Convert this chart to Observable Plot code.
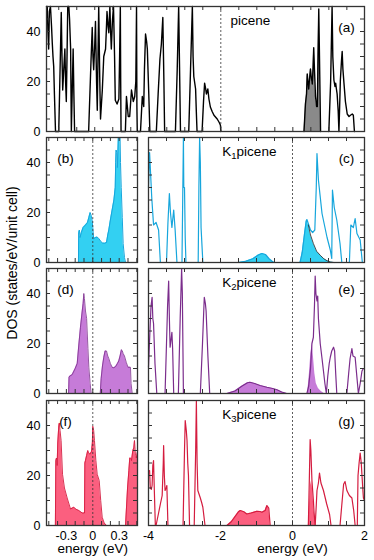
<!DOCTYPE html>
<html><head><meta charset="utf-8">
<script src="https://cdn.jsdelivr.net/npm/d3@7"></script>
<script src="https://cdn.jsdelivr.net/npm/@observablehq/plot@0.6"></script>
<style>
body{margin:0;background:#fff;}
#chart{position:relative;width:374px;height:560px;font-family:"Liberation Sans",Arial,sans-serif;}
#chart svg{position:absolute;}
</style></head><body><div id="chart"></div>
<script>
// ---------- tick labels ----------
const yLabelTicks = [0, 20, 40];
const yMinorTicks = [0, 5, 10, 15, 20, 25, 30, 35, 40, 45, 50];
const zoomLabelTicks = [-0.3, 0, 0.3];
const zoomMinorTicks = [-0.5, -0.4, -0.3, -0.2, -0.1, 0, 0.1, 0.2, 0.3, 0.4, 0.5];
const wideLabelTicks = [-4, -2, 0, 2];
const wideMinorTicks = [-4, -3.5, -3, -2.5, -2, -1.5, -1, -0.5, 0, 0.5, 1, 1.5, 2];
const picMinorTicks = [-4.5, -4, -3.5, -3, -2.5, -2, -1.5, -1, -0.5, 0, 0.5, 1, 1.5, 2, 2.5, 3, 3.5];

// ---------- (a) picene ----------
const picValence = [[-4.84,50],[-4.82,60],[-4.8,40],[-4.78,33],[-4.76,48],[-4.73,60],[-4.7,42],[-4.68,35.5],[-4.66,30],[-4.64,26],[-4.62,15],[-4.59,0],
[-4.5,0],[-4.47,20],[-4.43,47.6],[-4.41,30],[-4.39,16.6],[-4.36,25],[-4.33,33],[-4.31,20],[-4.29,12],[-4.27,30],[-4.25,55],[-4.22,60],[-4.2,45],[-4.17,33],[-4.15,0],[-4.12,20],[-4.1,33],[-4.08,15],[-4.06,0],
[-3.67,0],[-3.6,30],[-3.57,41.6],[-3.55,30],[-3.53,24.7],[-3.5,35],[-3.48,44],[-3.45,20],[-3.43,8.5],[-3.41,30],[-3.39,60],[-3.36,20],[-3.34,5],[-3.29,16.6],[-3.25,30],[-3.2,33],[-3.18,40],[-3.16,48],[-3.13,42],[-3.11,39.5],[-3.08,60],[-3.06,40],[-3.04,33],[-3.01,44],[-2.98,60],[-2.95,30],[-2.93,12.5],[-2.88,11],[-2.83,13],[-2.81,30],[-2.79,60],[-2.78,20],[-2.77,0],
[-2.65,0],[-2.62,14],[-2.57,6],[-2.53,6],[-2.48,16.6],[-2.43,12],[-2.39,14],[-2.36,20],[-2.34,60],[-2.33,10],[-2.32,0],
[-2.23,0],[-2.18,14],[-2.14,10],[-2.12,25],[-2.09,39],[-2.06,36],[-2.04,33],[-2.0,15],[-1.97,0],
[-1.79,0],[-1.74,15],[-1.69,29],[-1.65,35],[-1.61,45.6],[-1.58,20],[-1.56,0],
[-1.26,0],[-1.21,25],[-1.17,60],[-1.14,20],[-1.12,0],
[-0.89,0],[-0.84,25],[-0.79,60],[-0.77,30],[-0.75,22],[-0.7,17],[-0.68,8],[-0.66,0],
[-0.52,0],[-0.48,12],[-0.45,19.3],[-0.42,17],[-0.4,15],[-0.36,17],[-0.33,13],[-0.29,9.8],[-0.24,8],[-0.19,6.5],[-0.1,5],[-0.04,3.5],[-0.01,2.5],[0,0]];
const picLumo = [[2.31,0],[2.35,11],[2.38,15],[2.4,23],[2.42,20],[2.44,17],[2.47,22],[2.49,25],[2.51,22],[2.54,19],[2.56,25],[2.58,33.5],[2.6,25],[2.63,14],[2.66,10],[2.68,10],[2.7,30],[2.72,49],[2.74,30],[2.77,0]];
const picCond = [[3.0,0],[3.05,20],[3.09,60],[3.11,30],[3.14,20.6],[3.17,18],[3.19,19.3],[3.21,17],[3.23,15],[3.26,8],[3.28,0],[3.3,10],[3.32,20.6],[3.35,28],[3.37,32],[3.39,25],[3.42,19.3],[3.46,12],[3.51,7],[3.56,6],[3.6,6.5],[3.65,7],[3.68,6.5],[3.71,0]];

// ---------- (b),(c) K1picene ----------
const k1Zoom = [[-0.163,0],[-0.16,12],[-0.152,13],[-0.145,10],[-0.13,12],[-0.11,14],[-0.083,15],[-0.06,16],[-0.045,18],[-0.03,20],[-0.02,19],[-0.008,17],[0.0,14],[0.01,9.5],[0.03,10],[0.05,10.2],[0.07,9.5],[0.09,8.5],[0.11,7.8],[0.135,7.7],[0.156,8],[0.17,11],[0.182,13],[0.2,17],[0.22,21],[0.24,25],[0.255,30],[0.26,40],[0.265,45],[0.272,44],[0.28,38],[0.29,52],[0.31,52],[0.315,40],[0.323,30],[0.335,18],[0.345,7.6],[0.36,2],[0.372,0]];
const k1Line = [[-4.0,30],[-3.97,44],[-3.94,35],[-3.91,26],[-3.86,15],[-3.79,16],[-3.72,13],[-3.67,0],
[-3.5,0],[-3.46,16],[-3.42,27.6],[-3.39,20],[-3.35,14],[-3.3,21],[-3.26,13],[-3.21,0],
[-3.07,0],[-3.05,25],[-3.03,60],[-3.02,30],[-3.0,30],[-2.98,10],[-2.96,0],
[-2.62,0],[-2.6,30],[-2.58,60],[-2.56,40],[-2.54,14],[-2.49,0],
[-1.5,0],[-1.3,0.5],[-1.1,1.5],[-0.95,3],[-0.85,3.6],[-0.75,3.2],[-0.65,1.5],[-0.55,0.3],[-0.5,0],
[0.21,0],[0.27,4],[0.33,11],[0.38,16.5],[0.4,17.2],[0.44,15.5],[0.5,13],[0.56,12],[0.62,13],[0.66,30],[0.68,43.6],[0.72,33],[0.82,19.6],[0.96,10],[1.05,5],[1.09,1.6],[1.11,29],[1.16,22],[1.23,17],[1.32,7.6],[1.37,0],
[1.58,0],[1.62,15],[1.69,14],[1.74,17.6],[1.79,11.6],[1.88,9],[1.94,0],[2.0,0]];
const k1Bump = [[-1.5,0],[-1.3,0.5],[-1.1,1.5],[-0.95,3],[-0.85,3.6],[-0.75,3.2],[-0.65,1.5],[-0.55,0.3],[-0.5,0]];
const k1Lumo = [[0.21,0],[0.27,4],[0.33,11],[0.38,16.5],[0.4,17.2],[0.44,15],[0.5,11],[0.58,7.6],[0.67,4.5],[0.77,2.9],[0.87,1.5],[0.96,0.7],[1.05,0.2],[1.15,0]];
const k1Tail = [[0.44,15],[0.5,11],[0.58,7.6],[0.67,4.5],[0.77,2.9],[0.87,1.5],[0.96,0.7],[1.05,0.2],[1.15,0]];

// ---------- (d),(e) K2picene ----------
const k2ZoomA = [[-0.275,0],[-0.27,6.5],[-0.26,7],[-0.235,7.5],[-0.2,10],[-0.177,12],[-0.16,19],[-0.14,26.5],[-0.12,33],[-0.11,36],[-0.102,40],[-0.095,38],[-0.083,33],[-0.07,30],[-0.064,25],[-0.055,18],[-0.045,10.5],[-0.03,4],[-0.018,0]];
const k2ZoomB = [[0.085,0],[0.095,6],[0.11,11],[0.125,14.5],[0.14,17],[0.156,17],[0.17,15],[0.182,14],[0.2,12],[0.22,10.5],[0.239,10.3],[0.26,10.8],[0.28,12],[0.295,13],[0.31,15],[0.325,17.5],[0.334,17.2],[0.345,16],[0.36,15],[0.38,12.5],[0.4,10.5],[0.428,10.5],[0.435,4],[0.448,0]];
const k2Line = [[-4.0,10.5],[-3.96,25],[-3.93,35],[-3.9,38.5],[-3.88,30],[-3.86,28],[-3.82,12],[-3.77,0],
[-3.54,0],[-3.5,20],[-3.47,35],[-3.44,45],[-3.42,30],[-3.4,18.5],[-3.37,22],[-3.35,24.5],[-3.33,18],[-3.3,0],
[-3.17,0],[-3.12,30],[-3.08,60],[-3.06,40],[-3.03,0],
[-2.56,0],[-2.5,20],[-2.46,35],[-2.45,38.5],[-2.42,36],[-2.4,33],[-2.35,15],[-2.3,0],
[-1.82,0],[-1.6,1],[-1.4,3],[-1.25,4.3],[-1.18,4.5],[-1.05,4],[-0.9,3.2],[-0.71,2.5],[-0.55,2],[-0.43,1.5],[-0.3,0.6],[-0.16,0],
[0.4,0],[0.45,3],[0.5,10],[0.54,20],[0.58,22.5],[0.61,35],[0.63,47],[0.65,40],[0.68,37],[0.7,39],[0.72,30],[0.77,20],[0.82,14],[0.86,9],[0.9,4],[0.94,0],[0.98,7],[1.02,12],[1.05,14.5],[1.09,17],[1.14,18.5],[1.17,17],[1.2,8],[1.23,0],
[1.51,0],[1.56,8],[1.6,14],[1.65,18],[1.68,15],[1.74,14.5],[1.78,8],[1.83,0],[1.88,4],[1.93,9],[1.97,10],[2.0,10]];
const k2Bump = [[-1.82,0],[-1.6,1],[-1.4,3],[-1.25,4.3],[-1.18,4.5],[-1.05,4],[-0.9,3.2],[-0.71,2.5],[-0.55,2],[-0.43,1.5],[-0.3,0.6],[-0.16,0]];
const k2Lumo = [[0.42,0],[0.47,8],[0.51,16],[0.55,20],[0.58,15],[0.62,8],[0.66,4],[0.72,2],[0.8,0.8],[0.88,0]];

// ---------- (f),(g) K3picene ----------
const k3ZoomA = [[-0.425,0],[-0.42,26],[-0.412,27],[-0.405,24],[-0.398,33],[-0.386,40],[-0.38,41],[-0.372,38],[-0.36,34],[-0.344,20.5],[-0.322,15],[-0.291,11],[-0.253,6.6],[-0.216,7.3],[-0.19,6.5],[-0.159,6],[-0.12,5],[-0.094,5],[-0.09,25],[-0.083,26],[-0.07,28],[-0.057,30],[-0.045,29],[-0.034,28.5],[-0.015,29.5],[-0.005,33],[0,39.7],[0.01,38],[0.019,34],[0.035,26],[0.05,20.5],[0.073,18],[0.09,10],[0.107,3.3],[0.13,1],[0.156,0]];
const k3ZoomB = [[0.372,0],[0.395,15],[0.41,22],[0.42,27],[0.43,27],[0.44,26],[0.455,30],[0.466,31],[0.474,34],[0.485,28],[0.495,27],[0.51,30]];
const k3Line = [[-4.0,21.8],[-3.97,22],[-3.95,15],[-3.92,14.5],[-3.9,16],[-3.88,24],[-3.86,26],[-3.84,15],[-3.81,0],
[-3.79,0],[-3.72,5],[-3.67,8.6],[-3.62,12],[-3.59,25],[-3.58,32],[-3.56,20],[-3.54,14],[-3.51,15],[-3.49,16],[-3.46,0],
[-3.04,0],[-3.0,30],[-2.98,42],[-2.95,38],[-2.93,34],[-2.91,25],[-2.89,20],[-2.86,0],
[-2.73,0],[-2.69,30],[-2.67,60],[-2.65,25],[-2.63,14],[-2.56,11],[-2.52,9],[-2.49,7.3],[-2.43,0],
[-1.82,0],[-1.7,1.5],[-1.6,3.5],[-1.5,5.5],[-1.45,6],[-1.35,5.5],[-1.27,4.6],[-1.15,5],[-0.99,5.7],[-0.9,5.6],[-0.85,5.3],[-0.76,6],[-0.71,8],[-0.66,7],[-0.62,0],
[0.44,0],[0.47,20],[0.49,34.4],[0.51,30],[0.54,18],[0.58,10],[0.6,5],[0.63,0],[0.66,8],[0.68,14],[0.72,17],[0.75,21],[0.77,19],[0.79,17],[0.86,14],[0.95,8.6],[1.03,4.4],[1.07,0],
[1.32,0],[1.38,10],[1.42,16.5],[1.46,17.6],[1.51,14],[1.58,12],[1.65,11],[1.7,6],[1.74,0],[1.8,0],[1.82,20],[1.85,25],[1.88,29],[1.91,25],[1.93,20],[1.96,13],[1.97,11],[2.0,10]];
const k3Bump = [[-1.82,0],[-1.7,1.5],[-1.6,3.5],[-1.5,5.5],[-1.45,6],[-1.35,5.5],[-1.27,4.6],[-1.15,5],[-0.99,5.7],[-0.9,5.6],[-0.85,5.3],[-0.76,6],[-0.71,8],[-0.66,7],[-0.62,0]];
const k3Lumo = [[0.44,0],[0.47,8],[0.5,16],[0.53,18],[0.56,14],[0.6,6],[0.64,2],[0.66,0]];

// ---------- styles ----------
const C = {
  gray:   {fill: "#8a8a8a", line: "#000000"},
  cyan:   {fill: "#33d0f2", line: "#17a6dc"},
  purple: {fill: "#c67bd8", line: "#7b2d8c"},
  red:    {fill: "#fb5f7f", line: "#d41c3f"}
};
const FONT = "'Liberation Sans', Arial, Helvetica, sans-serif";
const fmt = d => d === 0 ? "0" : String(d);
const X = d => d[0], Yv = d => d[1];
const chart = document.getElementById("chart");

function area(data, color) { return Plot.areaY(data, {x: X, y: Yv, fill: color, fillOpacity: 1}); }
function line(data, color, sw = 1) { return Plot.line(data, {x: X, y: Yv, stroke: color, strokeWidth: sw}); }

function panel({left, top, w, h = 125, xDomain, xMinor, yLabels = false, xLabels = null, marks, name = null, nameX = 0, letter, letterSide, bottomLabel = false}) {
  const ML = yLabels ? 46 : 0, MT = 2, MR = 2, MB = bottomLabel ? 36 : 2;
  const extra = [];
  if (name) extra.push(Plot.text([name], {x: nameX, y: 44.2, text: d => d, textAnchor: "start", fontSize: 13.5}));
  extra.push(Plot.text([letter], {frameAnchor: letterSide === "left" ? "top-left" : "top-right", dx: letterSide === "left" ? 19 : -18, dy: 16, text: d => d, textAnchor: "middle", fontSize: 13.5}));
  if (bottomLabel) extra.push(Plot.text(["energy (eV)"], {x: 0, frameAnchor: "bottom", dy: 27, text: d => d, fontSize: 13.5}));
  const svg = Plot.plot({
    width: ML + w + MR, height: MT + h + MB,
    marginLeft: ML, marginRight: MR, marginTop: MT, marginBottom: MB,
    style: {fontFamily: FONT, fontSize: "12.5px", background: "transparent", color: "#000", overflow: "visible"},
    x: xLabels ? {domain: xDomain, ticks: xLabels, tickSize: 0, tickPadding: 6, tickFormat: fmt, label: null} : {domain: xDomain, axis: null},
    y: yLabels ? {domain: [0, 50], clamp: true, ticks: yLabelTicks, tickSize: 0, tickPadding: 6, label: null} : {domain: [0, 50], clamp: true, axis: null},
    marks: [
      ...marks,
      Plot.ruleX([0], {stroke: "#333", strokeWidth: 0.8, strokeDasharray: "2,2"}),
      Plot.tickY(yMinorTicks, {y: d => d, insetRight: w - 4, stroke: "#333"}),
      Plot.tickY(yMinorTicks, {y: d => d, insetLeft: w - 4, stroke: "#333"}),
      Plot.tickX(xMinor, {x: d => d, insetTop: h - 4, stroke: "#333"}),
      Plot.tickX(xMinor, {x: d => d, insetBottom: h - 4, stroke: "#333"}),
      Plot.frame({stroke: "#333", strokeWidth: 1.3}),
      ...extra
    ]
  });
  svg.style.left = (left - ML) + "px";
  svg.style.top = (top - MT) + "px";
  // subscripts for K1/K2/K3
  d3.select(svg).selectAll("text").each(function() {
    const t = this.textContent;
    const m = /^K(\d)picene$/.exec(t);
    if (m) {
      const s = d3.select(this);
      s.text("");
      s.append("tspan").text("K");
      s.append("tspan").attr("font-size", "9.5").attr("dy", "3").text(m[1]);
      s.append("tspan").attr("dy", "-3").text("picene");
    }
  });
  chart.append(svg);
}

const zoomDomain = [-0.526, 0.508];
const wideDomain = [-4, 2];

// (a)
panel({left: 46, top: 6, w: 318, xDomain: [-4.84, 3.99], xMinor: picMinorTicks, yLabels: true,
  marks: [area(picLumo, C.gray.fill), line(picValence, "#000", 1.4), line(picLumo, "#000", 1.4), line(picCond, "#000", 1.4)],
  name: "picene", nameX: 0.27, letter: "(a)", letterSide: "right"});
// (b)
panel({left: 46, top: 137, w: 91, xDomain: zoomDomain, xMinor: zoomMinorTicks, yLabels: true,
  marks: [area(k1Zoom, C.cyan.fill), line(k1Zoom, C.cyan.line, 1)], letter: "(b)", letterSide: "left"});
// (c)
panel({left: 148, top: 137, w: 216, xDomain: wideDomain, xMinor: wideMinorTicks,
  marks: [area(k1Bump, C.cyan.fill), area(k1Lumo, C.cyan.fill), line(k1Line, C.cyan.line, 1.2), line(k1Tail, "#222", 0.8)],
  name: "K1picene", nameX: -1.95, letter: "(c)", letterSide: "right"});
// (d)
panel({left: 46, top: 268, w: 91, xDomain: zoomDomain, xMinor: zoomMinorTicks, yLabels: true,
  marks: [area(k2ZoomA, C.purple.fill), area(k2ZoomB, C.purple.fill), line(k2ZoomA, C.purple.line, 0.8), line(k2ZoomB, C.purple.line, 0.8)],
  letter: "(d)", letterSide: "left"});
// (e)
panel({left: 148, top: 268, w: 216, xDomain: wideDomain, xMinor: wideMinorTicks,
  marks: [area(k2Bump, C.purple.fill), area(k2Lumo, C.purple.fill), line(k2Line, C.purple.line, 1.2)],
  name: "K2picene", nameX: -1.95, letter: "(e)", letterSide: "right"});
// (f)
panel({left: 46, top: 399.5, w: 91, xDomain: zoomDomain, xMinor: zoomMinorTicks, yLabels: true, xLabels: zoomLabelTicks, bottomLabel: true,
  marks: [area(k3ZoomA, C.red.fill), area(k3ZoomB, C.red.fill), line(k3ZoomA, C.red.line, 0.9), line(k3ZoomB, C.red.line, 0.9)],
  letter: "(f)", letterSide: "left"});
// (g)
panel({left: 148, top: 399.5, w: 216, xDomain: wideDomain, xMinor: wideMinorTicks, xLabels: wideLabelTicks, bottomLabel: true,
  marks: [area(k3Bump, C.red.fill), area(k3Lumo, C.red.fill), line(k3Line, C.red.line, 1.2)],
  name: "K3picene", nameX: -1.95, letter: "(g)", letterSide: "right"});

// shared y label
const lab = d3.create("svg").attr("width", 24).attr("height", 560).style("left", "0px").style("top", "0px");
lab.append("text").attr("transform", "translate(17,263) rotate(-90)").attr("text-anchor", "middle")
  .attr("font-family", FONT).attr("font-size", 14).attr("fill", "#000").text("DOS (states/eV/unit cell)");
chart.append(lab.node());
</script></body></html>
